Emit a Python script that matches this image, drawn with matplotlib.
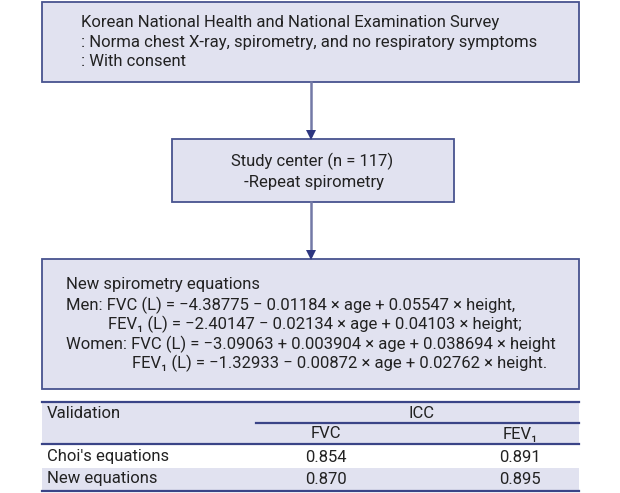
import matplotlib
matplotlib.use("Agg")
import matplotlib.pyplot as plt
from matplotlib.patches import Rectangle

plt.rcParams['font.family'] = ['Roboto', 'DejaVu Sans']

# flowchart text
box1_lines = ["Korean National Health and National Examination Survey",
              ": Norma chest X-ray, spirometry, and no respiratory symptoms",
              ": With consent"]
box2_lines = ["Study center (n = 117)", " -Repeat spirometry"]
box3_title = "New spirometry equations"
box3_lines = ["Men: FVC (L) = \u22124.38775 \u2212 0.01184 \u00d7 age + 0.05547 \u00d7 height,",
              "FEV\u2081 (L) = \u22122.40147 \u2212 0.02134 \u00d7 age + 0.04103 \u00d7 height;",
              "Women: FVC (L) = \u22123.09063 + 0.003904 \u00d7 age + 0.038694 \u00d7 height",
              "FEV\u2081 (L) = \u22121.32933 \u2212 0.00872 \u00d7 age + 0.02762 \u00d7 height."]
box3_indent = [66, 108, 66, 132]

# validation table
row_names = ["Choi's equations", "New equations"]
col_names = ["FVC", "FEV\u2081"]
icc_fvc = [0.854, 0.870]
icc_fev1 = [0.891, 0.895]

fill = '#e1e2f0'
edge = '#48538f'
dark = '#3a4487'
txt = '#222222'
fs = 12

fig = plt.figure(figsize=(6.2, 4.93), dpi=100)
ax = fig.add_axes([0, 0, 1, 1])
ax.set_xlim(0, 620)
ax.set_ylim(493, 0)
ax.axis('off')

def box(x0, y0, x1, y1):
    ax.add_patch(Rectangle((x0, y0), x1 - x0, y1 - y0, facecolor=fill,
                           edgecolor=edge, linewidth=1.3))

def arrow(y0, y1):
    ax.plot([310.5, 310.5], [y0, y1 - 4], color='#7379a6', lw=1.8)
    ax.plot([310.5], [y1 - 4], marker='v', color='#2d3680', markersize=7,
            markeredgewidth=0)

# box 1
box(42, 2, 579, 82)
for i, t in enumerate(box1_lines):
    ax.text(81, 22 + i * 20, t, fontsize=fs, va='center', ha='left', color=txt)

arrow(82, 139)

# box 2
box(172, 139, 454, 202)
for i, t in enumerate(box2_lines):
    ax.text(312, 161 + i * 21, t, fontsize=fs, va='center', ha='center', color=txt)

arrow(202, 259)

# box 3
box(42, 259, 579, 389)
ax.text(66, 285, box3_title, fontsize=fs, va='center', ha='left', color=txt)
for i, t in enumerate(box3_lines):
    ax.text(box3_indent[i], 305 + i * 19.5, t, fontsize=fs, va='center', ha='left',
            color=txt)

# table
ax.add_patch(Rectangle((42, 402), 537, 42, facecolor=fill, edgecolor='none'))
ax.add_patch(Rectangle((42, 468), 537, 23, facecolor=fill, edgecolor='none'))
ax.plot([42, 579], [402, 402], color=dark, lw=1.6)
ax.plot([256, 579], [423, 423], color=dark, lw=1.6)
ax.plot([42, 579], [444, 444], color=dark, lw=1.6)
ax.plot([42, 579], [491, 491], color=dark, lw=1.6)

ax.text(47, 413, "Validation", fontsize=fs, va='center', ha='left', color=txt)
ax.text(422, 413, "ICC", fontsize=fs, va='center', ha='center', color=txt)
col_x = [326, 520]
for cx, c in zip(col_x, col_names):
    ax.text(cx, 434, c, fontsize=fs, va='center', ha='center', color=txt)
for i, name in enumerate(row_names):
    y = 457 + i * 22
    ax.text(47, y, name, fontsize=fs, va='center', ha='left', color=txt)
    ax.text(col_x[0], y, f"{icc_fvc[i]:.3f}", fontsize=fs, va='center', ha='center', color=txt)
    ax.text(col_x[1], y, f"{icc_fev1[i]:.3f}", fontsize=fs, va='center', ha='center', color=txt)

fig.savefig("out.png", dpi=100)
